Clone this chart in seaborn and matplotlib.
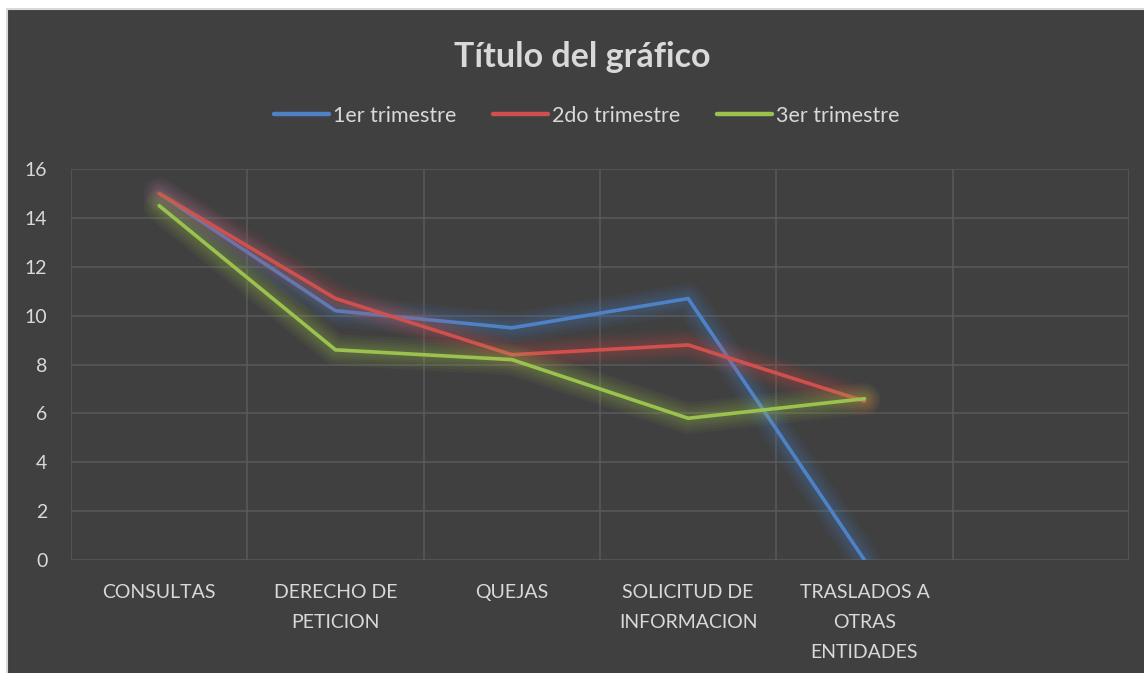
import matplotlib
matplotlib.use("Agg")
import matplotlib.pyplot as plt
import matplotlib.patheffects as pe
from matplotlib.patches import Rectangle
import seaborn as sns
import pandas as pd

categorias = ["CONSULTAS", "DERECHO DE\nPETICION", "QUEJAS",
              "SOLICITUD DE\nINFORMACION", "TRASLADOS A\nOTRAS\nENTIDADES"]
series = ["1er trimestre", "2do trimestre", "3er trimestre"]
primer_trimestre = [15.0, 10.2, 9.5, 10.7, 0.0]
segundo_trimestre = [15.0, 10.7, 8.4, 8.8, 6.5]
tercer_trimestre = [14.5, 8.6, 8.2, 5.8, 6.6]
colores = ["#4F81C7", "#D0504D", "#9BC24F"]
y_ticks = [0, 2, 4, 6, 8, 10, 12, 14, 16]

BG = "#404040"
GRID = "#595959"
TEXT = "#D9D9D9"

sns.set_theme(style="dark")
plt.rcParams["font.family"] = ["Lato", "DejaVu Sans"]

df = pd.DataFrame({
    "x": list(range(len(categorias))) * 3,
    "valor": primer_trimestre + segundo_trimestre + tercer_trimestre,
    "serie": [s for s in series for _ in categorias],
})

fig = plt.figure(figsize=(11.44, 6.73), dpi=100, facecolor="white")
# dark chart area with a thin light frame
fig.patches.append(Rectangle((7 / 1144, -0.01), 1.01 - 7 / 1144, 1.01 - 9 / 673,
                             transform=fig.transFigure, facecolor=BG,
                             edgecolor="#D9D9D9", linewidth=1.5, zorder=-10))

ax = fig.add_axes([71 / 1144, 1 - 560 / 673, (1129 - 71) / 1144, (560 - 169) / 673])
ax.set_facecolor(BG)

sns.lineplot(data=df, x="x", y="valor", hue="serie", palette=colores,
             linewidth=2.6, ax=ax, legend=False, sort=False)

# soft glow around each line
for line in ax.get_lines():
    c = line.get_color()
    effects = [pe.Stroke(linewidth=2.6 + w, foreground=c, alpha=0.06)
               for w in (20, 16, 12, 9, 6, 3)]
    line.set_path_effects(effects + [pe.Normal()])
    line.set_solid_capstyle("round")
    line.set_zorder(3)

n_slots = len(categorias) + 1
ax.set_xlim(-0.5, n_slots - 0.5)
ax.set_ylim(0, 16)
ax.set_xticks(range(len(categorias)))
ax.set_xticklabels(categorias, color=TEXT, fontsize=14, linespacing=1.95,
                   va="top")
ax.set_xticks([i - 0.5 for i in range(n_slots + 1)], minor=True)
ax.set_yticks(y_ticks)
ax.set_yticklabels([str(v) for v in y_ticks], color=TEXT, fontsize=14)
ax.tick_params(axis="x", which="major", length=0, pad=17)
ax.tick_params(axis="x", which="minor", length=0)
ax.tick_params(axis="y", length=0, pad=17)
ax.grid(False)
ax.grid(True, axis="y", which="major", color=GRID, linewidth=1.1)
ax.grid(True, axis="x", which="minor", color=GRID, linewidth=1.1)
for s in ax.spines.values():
    s.set_visible(False)
ax.set_xlabel("")
ax.set_ylabel("")

handles = [plt.Line2D([], [], color=c, linewidth=3.2, solid_capstyle="round")
           for c in colores]
fig.legend(handles, series, loc="center", bbox_to_anchor=(0.513, 1 - 116 / 673),
           ncol=3, frameon=False, fontsize=15.5, labelcolor=TEXT,
           handlelength=2.55, handletextpad=0.2, columnspacing=1.7)

fig.text(0.509, 1 - 57 / 673, "Título del gráfico", ha="center", va="center",
         fontsize=24.5, fontweight="bold", color=TEXT)

fig.savefig("out.png", dpi=100, facecolor=fig.get_facecolor())
